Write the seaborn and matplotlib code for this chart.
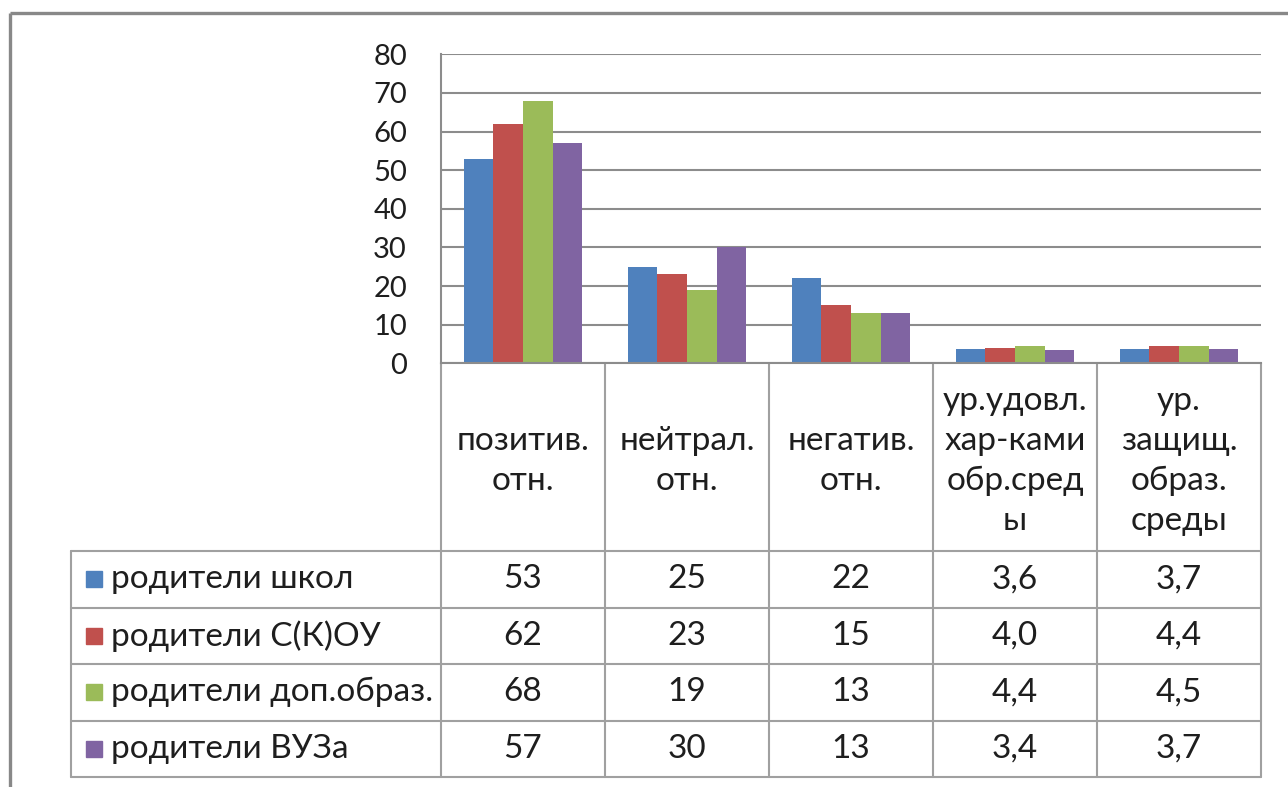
import matplotlib
matplotlib.use('Agg')
import matplotlib.pyplot as plt
import matplotlib.patches as mpatches
import seaborn as sns
import pandas as pd

# data
categories = ['позитив.\nотн.', 'нейтрал.\nотн.', 'негатив.\nотн.',
              'ур.удовл.\nхар-ками\nобр.сред\nы', 'ур.\nзащищ.\nобраз.\nсреды']
groups = ['родители школ', 'родители С(К)ОУ', 'родители доп.образ.', 'родители ВУЗа']
schools = [53, 25, 22, 3.6, 3.7]
skou = [62, 23, 15, 4.0, 4.4]
dop_obraz = [68, 19, 13, 4.4, 4.5]
vuz = [57, 30, 13, 3.4, 3.7]
decimals = [0, 0, 0, 1, 1]
yticks = [0, 10, 20, 30, 40, 50, 60, 70, 80]
colors = ['#4F81BD', '#C0504D', '#9BBB59', '#8064A2']

series = [schools, skou, dop_obraz, vuz]
rows = []
for g, vals in zip(groups, series):
    for c, v in zip(categories, vals):
        rows.append({'cat': c, 'group': g, 'value': v})
df = pd.DataFrame(rows)

sns.set_style('white')
plt.rcParams['font.family'] = ['Lato', 'DejaVu Sans']
FS = 24       # table text
FS_TICK = 21  # y tick labels
TXT_C = '#1e1e1e'

W, H = 1288, 787
fig = plt.figure(figsize=(W / 100, H / 100), dpi=100)

# plot area in pixels
px_left, px_right, px_top, px_bottom = 441, 1261, 54.3, 363.3
ax = fig.add_axes([px_left / W, 1 - px_bottom / H,
                   (px_right - px_left) / W, (px_bottom - px_top) / H])

sns.barplot(data=df, x='cat', y='value', hue='group', order=categories,
            hue_order=groups, palette=colors, width=0.72, ax=ax,
            legend=False, linewidth=0, saturation=1)

grid_c = '#8c8c8c'
line_c = '#a0a0a0'
ax.set_ylim(0, 80)
ax.set_xlim(-0.5, len(categories) - 0.5)
ax.set_yticks(yticks)
ax.set_yticklabels([str(t) for t in yticks], fontsize=FS_TICK, color=TXT_C)
ax.set_xticks([])
ax.set_xlabel('')
ax.set_ylabel('')
ax.yaxis.grid(True, color=grid_c, linewidth=1.5)
ax.set_axisbelow(True)
ax.tick_params(axis='y', length=0, pad=24.5)
for s in ['top', 'right']:
    ax.spines[s].set_visible(False)
for s in ['left', 'bottom']:
    ax.spines[s].set_color(grid_c)
    ax.spines[s].set_linewidth(1.5)

# overlay in pixel coordinates for the data table and frame
ov = fig.add_axes([0, 0, 1, 1], zorder=-1)
ov.set_xlim(0, W)
ov.set_ylim(H, 0)
ov.axis('off')

# outer chart frame
ov.plot([10, 10], [13, H], color='#888888', lw=2.4, solid_capstyle='butt')
ov.plot([10, W], [13, 13], color='#888888', lw=2.4, solid_capstyle='butt')

# column boundaries from the bar axes
def xpix(x):
    return ax.transData.transform((x, 0))[0]

bounds = [xpix(i - 0.5) for i in range(len(categories) + 1)]
centers = [xpix(i) for i in range(len(categories))]

tbl_left = 71
header_bottom = 551
row_h = (777 - header_bottom) / len(groups)
row_lines = [header_bottom + k * row_h for k in range(len(groups) + 1)]

for xb in bounds:
    ov.plot([xb, xb], [px_bottom, row_lines[-1]], color=line_c, lw=1.5)
ov.plot([tbl_left, tbl_left], [header_bottom, row_lines[-1]], color=line_c, lw=1.5)
for yl in row_lines:
    ov.plot([tbl_left, bounds[-1]], [yl, yl], color=line_c, lw=1.5)

# header labels
for xc, lab in zip(centers, categories):
    ov.text(xc, (px_bottom + header_bottom) / 2 + 4, lab, ha='center', va='center',
            fontsize=FS, linespacing=1.42, color=TXT_C)

# data rows
for r, (g, vals) in enumerate(zip(groups, series)):
    yc = row_lines[r] + row_h / 2
    ov.add_patch(mpatches.Rectangle((86, yc - 8), 16, 16, color=colors[r]))
    ov.text(111, yc, g, ha='left', va='center', fontsize=FS, color=TXT_C)
    for xc, v, d in zip(centers, vals, decimals):
        txt = f'{v:.{d}f}'.replace('.', ',')
        ov.text(xc, yc, txt, ha='center', va='center', fontsize=FS, color=TXT_C)

plt.savefig('out.png', dpi=100, facecolor='white')
